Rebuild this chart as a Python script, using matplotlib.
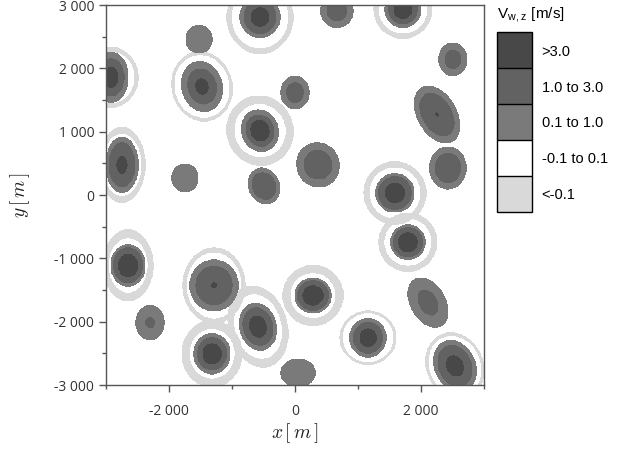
import numpy as np
import matplotlib
matplotlib.use('Agg')
import matplotlib.pyplot as plt
from matplotlib.ticker import FixedLocator

plt.rcParams['mathtext.fontset'] = 'cm'

# thermal centres [m]
th_x = [-555, -1524, -2920, -1476, 0, -555, -492, 365, -1746, 667, 1714, 2507, 2254, 2428,
        1587, 1793, -2650, -2301, -1285, -587, -1317, 48, 286, 1159, 2111, 2539, -2746]
th_y = [2809, 2460, 1857, 1714, 1619, 1016, 143, 476, 270, 2904, 2936, 2142, 1270, 428,
        32, -746, -1111, -2015, -1428, -2079, -2507, -2809, -1587, -2254, -1698, -2698, 476]
# outer radius (0.1 m/s contour) [m], aspect (y/x) and tilt [deg]
r_out = [317, 206, 270, 317, 222, 286, 238, 333, 206, 254, 286, 222, 302, 286,
         302, 270, 270, 222, 381, 286, 286, 270, 286, 286, 270, 317, 254]
aspect = [1.0, 1.05, 1.45, 1.25, 1.15, 1.15, 1.2, 1.05, 1.05, 1.0, 1.0, 1.15, 1.6, 1.15,
          1.0, 1.0, 1.2, 1.2, 1.05, 1.3, 1.1, 0.8, 0.95, 1.05, 1.55, 1.3, 1.7]
tilt = [0, 0, 0, 15, 0, 20, 25, 30, 0, 0, 0, 0, 30, 0,
        0, 0, 0, 0, 0, 15, 0, 0, 0, 0, 30, 25, 0]
# fraction of outer radius for the 1.0 and 3.0 m/s contours
f_mid = [0.8, 0.0, 0.75, 0.7, 0.6, 0.75, 0.75, 0.65, 0.0, 0.6, 0.8, 0.55, 0.75, 0.7,
         0.85, 0.85, 0.85, 0.3, 0.75, 0.8, 0.8, 0.0, 0.85, 0.8, 0.5, 0.8, 0.8]
f_core = [0.45, 0, 0.4, 0.3, 0, 0.5, 0, 0, 0, 0, 0.5, 0, 0.05, 0,
          0.5, 0.55, 0.55, 0, 0.1, 0.45, 0.5, 0, 0.55, 0.45, 0, 0.4, 0.3]
# downdraft ring (< -0.1 m/s) inner / outer radius [m], aspect
ring_in = [444, 0, 365, 428, 0, 397, 0, 0, 0, 0, 381, 0, 0, 0,
           397, 365, 302, 0, 428, 365, 349, 0, 349, 397, 0, 397, 302]
ring_out = [540, 0, 444, 492, 0, 540, 0, 0, 0, 0, 476, 0, 0, 0,
            508, 476, 413, 0, 508, 476, 492, 0, 492, 460, 0, 460, 381]
ring_asp = [1.1, 1, 1.1, 1.15, 1, 1.05, 1, 1, 1, 1, 1.0, 1, 1, 1,
            1.0, 1.0, 1.4, 1, 1.2, 1.4, 1.1, 1, 1.0, 0.95, 1, 1.2, 1.6]

levels = [-10, -0.1, 0.1, 1, 3, 10]
colors = ['#d9d9d9', 'white', '#7a7a7a', '#626262', '#484848']
cat_labels = ['<-0.1', '-0.1 to 0.1', '0.1 to 1.0', '1.0 to 3.0', '>3.0']
cat_value = {0: 0.0, 1: 0.5, 2: 2.0, 3: 5.0}

xs = np.linspace(-3000, 3000, 601)
X, Y = np.meshgrid(xs, xs)
up = np.zeros_like(X, dtype=int)
down = np.zeros_like(X, dtype=bool)
for i in range(len(th_x)):
    t = np.radians(tilt[i])
    dx, dy = X - th_x[i], Y - th_y[i]
    u = dx * np.cos(t) + dy * np.sin(t)
    v = -dx * np.sin(t) + dy * np.cos(t)
    d = np.sqrt(u**2 + (v / aspect[i])**2)
    lev = np.where(d < r_out[i], 1, 0)
    lev = np.where(d < r_out[i] * f_mid[i], 2, lev)
    lev = np.where(d < r_out[i] * f_core[i], 3, lev)
    up = np.maximum(up, lev)
    if ring_out[i] > 0:
        dr = np.sqrt(u**2 + (v / ring_asp[i])**2)
        down |= (dr > ring_in[i]) & (dr < ring_out[i])

W = np.vectorize(cat_value.get)(up).astype(float)
W = np.where((up == 0) & down, -0.5, W)

fig = plt.figure(figsize=(6.17, 4.51), dpi=100)
ax = fig.add_axes([0.1718, 0.1463, 0.6126, 0.8426])
cf = ax.contourf(X, Y, W, levels=levels, colors=colors)
ax.set_xlim(-3000, 3000)
ax.set_ylim(-3000, 3000)

ax.xaxis.set_major_locator(FixedLocator([-2000, 0, 2000]))
ax.xaxis.set_minor_locator(FixedLocator([-3000, -1000, 1000, 3000]))
ax.set_xticklabels(['-2 000', '0', '2 000'])
ax.yaxis.set_major_locator(FixedLocator([-3000, -2000, -1000, 0, 1000, 2000, 3000]))
ax.yaxis.set_minor_locator(FixedLocator([-2500, -1500, -500, 500, 1500, 2500]))
ax.set_yticklabels(['-3 000', '-2 000', '-1 000', '0', '1 000', '2 000', '3 000'])
for lab in ax.get_xticklabels() + ax.get_yticklabels():
    lab.set_family('Open Sans')
    lab.set_fontsize(10)
    lab.set_color('#333333')
ax.tick_params(which='major', direction='out', length=5, width=1, color='#555555')
ax.tick_params(which='minor', direction='out', length=3, width=1, color='#555555')
ax.tick_params(axis='x', pad=9)
for sp in ax.spines.values():
    sp.set_color('#555555')
    sp.set_linewidth(1)

ax.set_xlabel(r'$x\,[\,m\,]$', fontsize=14, labelpad=1, color='#222222')
ax.set_ylabel(r'$y\,[\,m\,]$', fontsize=14, labelpad=16, color='#222222')

cax = fig.add_axes([0.8055, 0.530, 0.0567, 0.399])
cb = fig.colorbar(cf, cax=cax, spacing='uniform', drawedges=True)
mids = [-5.05, 0, 0.55, 2, 6.5]
cb.set_ticks(mids)
cb.set_ticklabels(cat_labels)
cb.ax.tick_params(length=0, pad=7)
for lab in cb.ax.get_yticklabels():
    lab.set_family('Liberation Sans')
    lab.set_fontsize(10.5)
cb.outline.set_linewidth(1)
cb.dividers.set_linewidth(1)
fig.text(0.805, 0.958, r'V$_{\mathregular{w,z}}$ [m/s]', fontsize=11,
         family='Liberation Sans', va='baseline')

fig.savefig('out.png', dpi=100)
